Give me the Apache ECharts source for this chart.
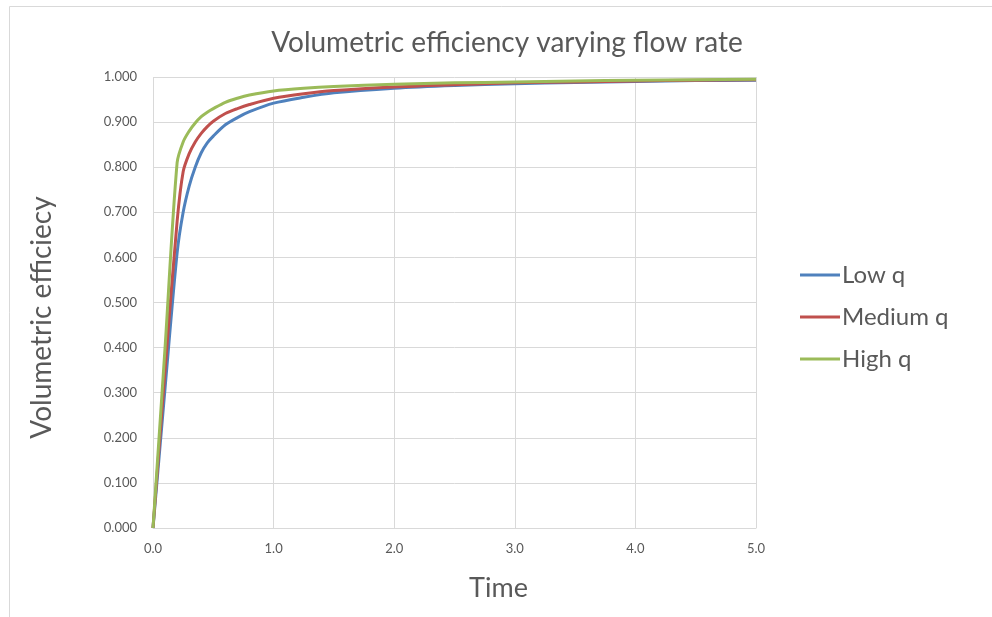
<!DOCTYPE html>
<html><head><meta charset="utf-8">
<script src="https://cdn.jsdelivr.net/npm/echarts@6/dist/echarts.min.js"></script>
<style>html,body{margin:0;padding:0;background:#fff}#c{width:992px;height:617px}</style>
</head><body><div id="c"></div>
<script>
const timeVals = [0, 0.1, 0.2, 0.25, 0.3, 0.35, 0.4, 0.45, 0.5, 0.6, 0.7, 0.8, 1.0, 1.25, 1.5, 2.0, 2.5, 3.0, 3.5, 4.0, 4.5, 5.0];
const lowQ    = [0, 0.31, 0.61, 0.70, 0.758, 0.800, 0.832, 0.854, 0.869, 0.894, 0.910, 0.923, 0.942, 0.955, 0.965, 0.975, 0.981, 0.985, 0.988, 0.990, 0.992, 0.993];
const mediumQ = [0, 0.35, 0.68, 0.79, 0.83, 0.856, 0.875, 0.890, 0.902, 0.919, 0.930, 0.939, 0.953, 0.963, 0.970, 0.978, 0.983, 0.987, 0.989, 0.991, 0.993, 0.994];
const highQ   = [0, 0.40, 0.81, 0.856, 0.880, 0.898, 0.912, 0.922, 0.930, 0.944, 0.953, 0.960, 0.969, 0.975, 0.979, 0.984, 0.987, 0.989, 0.991, 0.993, 0.994, 0.995];
const seriesNames = ['Low q', 'Medium q', 'High q'];
const seriesColors = ['#4F81BD', '#C0504D', '#9BBB59'];

const FONT = 'Lato, "Open Sans", sans-serif';
const pair = arr => timeVals.map((t, i) => [t, arr[i]]);
const chart = echarts.init(document.getElementById('c'));
chart.setOption({
  animation: false,
  backgroundColor: '#fff',
  graphic: [{type: 'rect', left: 7, top: 4, shape: {width: 1100, height: 700}, style: {fill: 'none', stroke: '#d9d9d9', lineWidth: 1}, silent: true}],
  title: {text: 'Volumetric efficiency varying flow rate', left: 502, textAlign: 'center', top: 24,
    textStyle: {fontFamily: FONT, fontSize: 28, fontWeight: 'normal', color: '#595959'}},
  legend: {orient: 'vertical', left: 795, top: 258, itemWidth: 40, itemHeight: 3, itemGap: 18, icon: 'rect',
    textStyle: {fontFamily: FONT, fontSize: 24, color: '#595959', padding: [0, 0, 0, -3]},
    data: seriesNames},
  grid: {left: 153, right: 236, top: 77, bottom: 89, containLabel: false},
  xAxis: {type: 'value', min: 0, max: 5, interval: 1,
    name: 'Time', nameLocation: 'middle', nameGap: 47,
    nameTextStyle: {fontFamily: FONT, fontSize: 27, color: '#595959', padding: [0, 0, 0, 88]},
    axisLine: {lineStyle: {color: '#d9d9d9'}}, axisTick: {show: false},
    axisLabel: {formatter: v => v.toFixed(1), fontFamily: FONT, fontSize: 13, color: '#595959', margin: 14},
    splitLine: {show: true, lineStyle: {color: '#d9d9d9'}}},
  yAxis: {type: 'value', min: 0, max: 1, interval: 0.1,
    name: 'Volumetric efficiecy', nameLocation: 'middle', nameGap: 97,
    nameTextStyle: {fontFamily: FONT, fontSize: 28, color: '#595959', padding: [0, 30, 0, 0]},
    axisLine: {show: false}, axisTick: {show: false},
    axisLabel: {formatter: v => v.toFixed(3), fontFamily: FONT, fontSize: 13, color: '#595959', margin: 16},
    splitLine: {show: true, lineStyle: {color: '#d9d9d9'}}},
  series: [lowQ, mediumQ, highQ].map((d, i) => ({
    name: seriesNames[i], type: 'line', data: pair(d), smooth: 0.3, showSymbol: false,
    color: seriesColors[i], lineStyle: {width: 3, color: seriesColors[i]}
  }))
});
</script></body></html>
